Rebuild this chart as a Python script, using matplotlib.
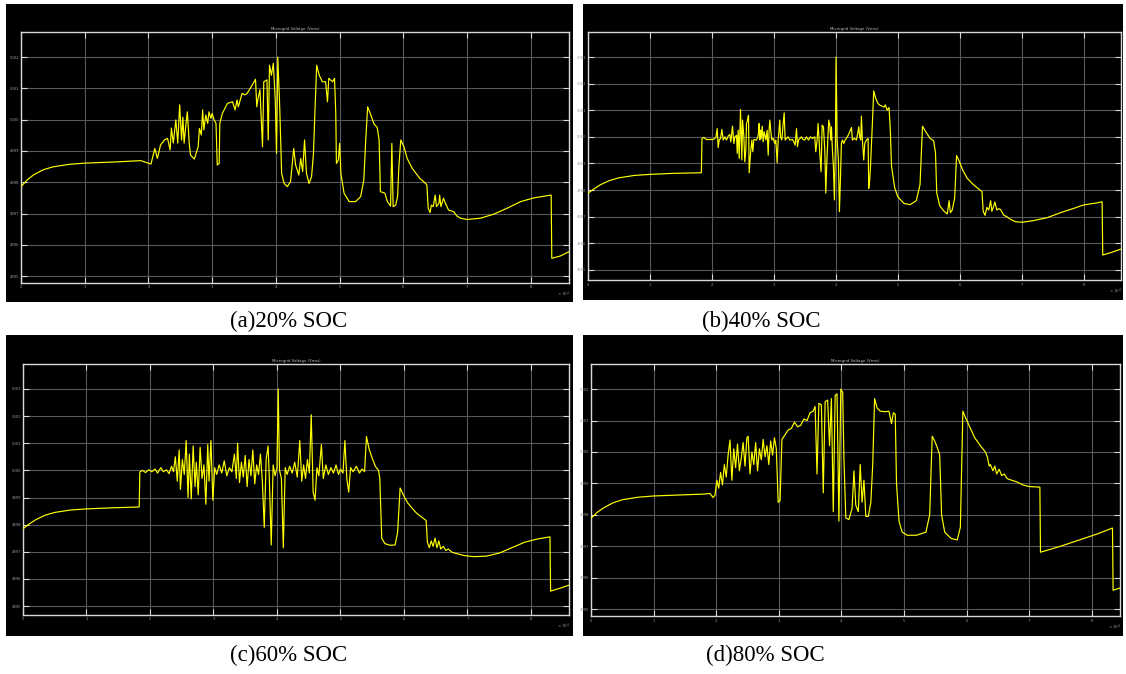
import matplotlib
matplotlib.use("Agg")
import matplotlib.pyplot as plt
from matplotlib.patches import Rectangle
import matplotlib.ticker as mticker

# ---------------- data (time in x10^4 s, voltage in V) ----------------
t_a = [0, 0.1, 0.2, 0.35, 0.5, 0.75, 1.0, 1.5, 1.88, 2.04, 2.10, 2.14, 2.19, 2.25, 2.30, 2.34, 2.36, 2.39,
       2.43, 2.46, 2.49, 2.52, 2.54, 2.56, 2.59, 2.61, 2.64, 2.66, 2.72, 2.78, 2.80, 2.83, 2.85, 2.87,
       2.90, 2.93, 2.95, 2.98, 3.00, 3.03, 3.06, 3.08, 3.11, 3.12, 3.16, 3.24, 3.32, 3.36, 3.39, 3.41,
       3.44, 3.47, 3.51, 3.55, 3.63, 3.68, 3.70, 3.72, 3.75, 3.79, 3.81, 3.86, 3.88, 3.90, 3.93, 3.96,
       3.99, 4.01, 4.03, 4.06, 4.09, 4.13, 4.18, 4.23, 4.28, 4.31, 4.36, 4.39, 4.42, 4.45, 4.48, 4.52,
       4.56, 4.59, 4.61, 4.64, 4.68, 4.73, 4.78, 4.81, 4.83, 4.89, 4.92, 4.94, 4.95, 4.98, 5.00, 5.02,
       5.07, 5.15, 5.25, 5.33, 5.38, 5.41, 5.44, 5.49, 5.54, 5.59, 5.62, 5.64, 5.71, 5.75, 5.80, 5.82,
       5.84, 5.88, 5.91, 5.93, 5.96, 6.01, 6.06, 6.14, 6.26, 6.35, 6.37, 6.39, 6.42, 6.44, 6.47, 6.50,
       6.52, 6.56, 6.57, 6.59, 6.63, 6.66, 6.71, 6.79, 6.84, 6.90, 7.00, 7.21, 7.42, 7.63, 7.84, 8.05,
       8.32, 8.33, 8.46, 8.60]
v_a = [4997.86, 4998.08, 4998.24, 4998.40, 4998.49, 4998.57, 4998.61, 4998.65, 4998.69, 4998.58, 4999.08,
       4998.76, 4999.19, 4999.35, 4999.40, 4999.03, 4999.73, 4999.25, 4999.99, 4999.25, 5000.47, 4999.35,
       5000.08, 4999.25, 4999.89, 5000.25, 4999.25, 4998.87, 4998.74, 4999.13, 4999.72, 4999.51, 5000.31,
       4999.67, 5000.15, 4999.88, 5000.25, 5000.04, 5000.20, 4999.99, 4999.88, 4998.55, 4998.60, 4999.88,
       5000.20, 5000.52, 5000.57, 5000.31, 5000.63, 5000.41, 5000.63, 5000.84, 5000.79, 5000.84, 5001.11,
       5001.29, 5000.41, 5000.68, 5000.95, 4999.13, 5001.21, 5001.27, 4999.35, 5001.74, 5001.42, 5001.80,
       5000.63, 4998.92, 5002.00, 5000.41, 4998.28, 4997.96, 4997.86, 4998.02, 4999.08, 4998.55, 4998.23,
       4998.76, 4998.34, 4999.35, 4998.28, 4997.96, 4998.18, 4998.92, 5000.09, 5001.74, 5001.42, 5001.21,
       5001.21, 5000.57, 5001.32, 5001.21, 5001.32, 5000.20, 4998.60, 4998.71, 4999.24, 4998.28, 4997.65,
       4997.38, 4997.38, 4997.54, 4998.07, 4999.35, 5000.41, 5000.15, 4999.86, 4999.75, 4999.35, 4997.70,
       4997.65, 4997.38, 4997.24, 4999.24, 4997.22, 4997.27, 4997.54, 4998.50, 4999.35, 4999.13, 4998.76,
       4998.44, 4998.12, 4997.96, 4997.91, 4997.17, 4997.03, 4997.27, 4997.22, 4997.59, 4997.22, 4997.33,
       4997.59, 4997.22, 4997.49, 4997.33, 4997.11, 4997.06, 4996.92, 4996.85, 4996.81, 4996.85, 4996.98,
       4997.17, 4997.38, 4997.50, 4997.59, 4995.57, 4995.64, 4995.78]

t_b = [0, 0.1, 0.2, 0.35, 0.5, 0.75, 1.0, 1.4, 1.83, 1.84, 1.87, 1.91, 2.02, 2.065, 2.086, 2.102, 2.118,
       2.14, 2.161, 2.183, 2.21, 2.237, 2.263, 2.29, 2.306, 2.333, 2.355, 2.371, 2.398, 2.409, 2.425,
       2.441, 2.462, 2.484, 2.495, 2.516, 2.532, 2.548, 2.559, 2.575, 2.591, 2.602, 2.624, 2.645, 2.661,
       2.677, 2.72, 2.742, 2.753, 2.763, 2.774, 2.785, 2.796, 2.812, 2.828, 2.844, 2.871, 2.892, 2.909,
       2.925, 2.935, 2.952, 2.968, 2.989, 3.016, 3.032, 3.054, 3.070, 3.097, 3.108, 3.129, 3.151, 3.167,
       3.183, 3.204, 3.231, 3.258, 3.301, 3.323, 3.344, 3.366, 3.382, 3.398, 3.446, 3.473, 3.5, 3.527,
       3.559, 3.591, 3.624, 3.661, 3.677, 3.699, 3.715, 3.731, 3.742, 3.763, 3.78, 3.801, 3.823, 3.839,
       3.855, 3.871, 3.887, 3.903, 3.919, 3.93, 3.946, 3.962, 3.978, 3.995, 4.005, 4.022, 4.043, 4.059,
       4.075, 4.091, 4.108, 4.129, 4.151, 4.183, 4.215, 4.237, 4.253, 4.269, 4.301, 4.333, 4.355, 4.371,
       4.387, 4.403, 4.414, 4.43, 4.452, 4.468, 4.495, 4.522, 4.532, 4.548, 4.559, 4.575, 4.591, 4.613,
       4.645, 4.683, 4.71, 4.78, 4.80, 4.83, 4.86, 4.88, 4.90, 4.95, 5.0, 5.1, 5.2, 5.3, 5.36, 5.40,
       5.45, 5.52, 5.58, 5.61, 5.63, 5.68, 5.75, 5.80, 5.83, 5.85, 5.88, 5.92, 5.95, 5.99, 6.05, 6.12,
       6.2, 6.3, 6.36, 6.38, 6.41, 6.44, 6.47, 6.5, 6.52, 6.55, 6.57, 6.6, 6.63, 6.66, 6.71, 6.76, 6.82,
       6.90, 7.01, 7.19, 7.41, 7.63, 7.84, 8.00, 8.22, 8.30, 8.31, 8.43, 8.60]
v_b = [4997.88, 4998.05, 4998.20, 4998.36, 4998.46, 4998.55, 4998.59, 4998.63, 4998.65, 4999.94, 4999.98,
       4999.90, 4999.90, 4999.98, 5000.31, 4999.60, 4999.88, 4999.94, 5000.28, 4999.88, 5000.00, 4999.88,
       5000.03, 5000.09, 4999.81, 5000.40, 4999.75, 5000.00, 5000.06, 4999.38, 5000.25, 4999.19, 5001.03,
       4999.13, 5000.63, 5000.00, 4999.06, 4999.50, 5000.50, 5000.63, 5000.81, 4998.65, 4999.38, 4999.88,
       4999.44, 4999.90, 4999.88, 5000.00, 5000.15, 5000.50, 4999.88, 5000.25, 4999.94, 5000.40, 4999.81,
       5000.19, 4999.88, 5000.25, 4999.31, 5000.31, 5000.63, 5000.19, 4999.88, 4999.94, 4999.75, 4999.88,
       4999.03, 4999.88, 5000.63, 5000.00, 4999.88, 5000.50, 5000.90, 4999.88, 4999.94, 5000.00, 4999.88,
       4999.90, 4999.81, 4999.69, 5000.31, 4999.63, 4999.88, 5000.00, 4999.90, 4999.88, 5000.00, 4999.88,
       5000.00, 4999.94, 5000.00, 4999.44, 4999.88, 5000.50, 4999.88, 4999.38, 4998.69, 5000.44, 5000.38,
       4999.50, 4997.88, 4999.00, 4999.88, 5000.63, 5000.44, 4999.88, 5000.38, 4999.50, 4998.88, 4997.63,
       4999.88, 5003.00, 4999.88, 4999.13, 4997.19, 4998.38, 4999.75, 4999.88, 4999.75, 4999.88, 4999.98,
       5000.13, 5000.25, 5000.35, 4999.88, 4999.94, 4999.88, 5000.13, 5000.38, 5000.00, 4999.88, 5000.78,
       4999.88, 4999.13, 4999.75, 4999.88, 4999.94, 4998.06, 4998.38, 4998.81, 4999.63, 5000.50, 5001.73,
       5001.44, 5001.25, 5001.19, 5001.12, 5001.20, 5001.00, 5001.10, 5000.30, 4998.90, 4998.10, 4997.75,
       4997.50, 4997.45, 4997.60, 4998.20, 5000.40, 5000.20, 4999.95, 4999.85, 4999.40, 4997.90, 4997.40,
       4997.20, 4997.10, 4997.60, 4997.15, 4997.25, 4997.70, 4999.30, 4999.10, 4998.75, 4998.45, 4998.25,
       4998.05, 4997.95, 4997.20, 4997.05, 4997.35, 4997.25, 4997.60, 4997.20, 4997.40, 4997.55, 4997.25,
       4997.30, 4997.27, 4997.06, 4997.00, 4996.90, 4996.81, 4996.79, 4996.85, 4996.96, 4997.15, 4997.31,
       4997.44, 4997.52, 4997.56, 4995.56, 4995.64, 4995.78]

t_c = [0, 0.1, 0.2, 0.35, 0.5, 0.75, 1.0, 1.4, 1.83, 1.84, 1.88, 1.93, 1.98, 2.03, 2.08, 2.12, 2.17, 2.21,
       2.26, 2.30, 2.34, 2.37, 2.40, 2.43, 2.46, 2.48, 2.51, 2.54, 2.57, 2.60, 2.62, 2.65, 2.68, 2.71,
       2.73, 2.76, 2.79, 2.82, 2.85, 2.88, 2.91, 2.93, 2.96, 2.99, 3.02, 3.05, 3.09, 3.13, 3.17, 3.21,
       3.25, 3.29, 3.33, 3.36, 3.38, 3.41, 3.44, 3.47, 3.50, 3.53, 3.56, 3.59, 3.62, 3.65, 3.68, 3.71,
       3.74, 3.77, 3.80, 3.83, 3.86, 3.88, 3.91, 3.94, 3.97, 4.00, 4.02, 4.04, 4.07, 4.10, 4.13, 4.16,
       4.20, 4.24, 4.28, 4.32, 4.36, 4.39, 4.42, 4.45, 4.48, 4.51, 4.54, 4.57, 4.60, 4.63, 4.66, 4.70,
       4.73, 4.77, 4.81, 4.85, 4.89, 4.93, 4.97, 5.00, 5.04, 5.07, 5.10, 5.13, 5.16, 5.20, 5.25, 5.30,
       5.34, 5.38, 5.41, 5.45, 5.50, 5.55, 5.60, 5.62, 5.65, 5.70, 5.78, 5.86, 5.90, 5.94, 6.00, 6.06,
       6.13, 6.20, 6.28, 6.35, 6.37, 6.40, 6.43, 6.46, 6.49, 6.52, 6.55, 6.58, 6.62, 6.66, 6.70, 6.76,
       6.85, 6.95, 7.10, 7.30, 7.50, 7.70, 7.90, 8.10, 8.30, 8.31, 8.45, 8.60]
v_c = [4997.85, 4998.03, 4998.18, 4998.35, 4998.45, 4998.54, 4998.58, 4998.62, 4998.65, 4999.94, 5000.00,
       4999.92, 5000.02, 4999.95, 5000.05, 4999.90, 5000.10, 4999.95, 5000.02, 4999.88, 5000.15, 4999.95,
       5000.50, 4999.60, 5000.75, 4999.30, 5000.40, 4999.85, 5001.10, 4999.00, 5000.60, 4998.95, 5000.90,
       4999.40, 5000.30, 4999.10, 5000.85, 4999.70, 5000.20, 4998.75, 5000.95, 4999.60, 5001.10, 4998.90,
       5000.10, 4999.85, 5000.20, 4999.90, 5000.35, 4999.80, 5000.10, 4999.95, 5000.60, 4999.70, 5001.00,
       4999.55, 5000.30, 4999.75, 5000.55, 4999.40, 5000.40, 4999.80, 5000.75, 4999.50, 5000.20, 4999.85,
       5000.60, 4999.60, 4997.90, 5000.40, 5000.90, 4999.70, 4997.25, 5000.20, 4999.80, 5000.10, 5003.00,
       5000.00, 4999.70, 4997.15, 5000.10, 4999.85, 5000.15, 4999.90, 5000.30, 4999.75, 5001.10, 4999.60,
       5000.20, 4999.70, 5000.40, 4999.90, 5002.05, 4999.20, 4998.90, 5000.10, 4999.80, 5000.95, 4999.70,
       5000.20, 4999.85, 5000.10, 4999.90, 5000.20, 4999.85, 5000.05, 4999.90, 5001.10, 4999.70, 4999.20,
       5000.10, 4999.95, 5000.15, 4999.90, 5000.05, 4999.95, 5001.25, 5000.80, 5000.45, 5000.15, 5000.00,
       4999.70, 4997.50, 4997.30, 4997.24, 4997.25, 4997.70, 4999.35, 4999.05, 4998.80, 4998.60, 4998.42,
       4998.28, 4998.15, 4997.35, 4997.15, 4997.40, 4997.20, 4997.50, 4997.15, 4997.40, 4997.10, 4997.20,
       4997.05, 4997.10, 4996.98, 4996.92, 4996.86, 4996.82, 4996.84, 4996.95, 4997.15, 4997.35, 4997.47,
       4997.55, 4995.55, 4995.65, 4995.77]

t_d = [0, 0.1, 0.2, 0.35, 0.5, 0.75, 1.0, 1.4, 1.80, 1.90, 1.95, 1.98, 2.01, 2.04, 2.07, 2.10, 2.13, 2.16,
       2.19, 2.22, 2.25, 2.28, 2.31, 2.34, 2.37, 2.40, 2.43, 2.46, 2.49, 2.51, 2.54, 2.57, 2.60, 2.63,
       2.66, 2.69, 2.72, 2.75, 2.78, 2.81, 2.84, 2.87, 2.90, 2.93, 2.96, 2.99, 3.02, 3.05, 3.10, 3.15,
       3.20, 3.25, 3.30, 3.35, 3.40, 3.45, 3.50, 3.55, 3.58, 3.61, 3.64, 3.68, 3.71, 3.74, 3.78, 3.81,
       3.84, 3.87, 3.90, 3.93, 3.96, 3.99, 4.02, 4.04, 4.07, 4.12, 4.17, 4.20, 4.23, 4.27, 4.30, 4.33,
       4.36, 4.39, 4.43, 4.47, 4.50, 4.53, 4.57, 4.62, 4.70, 4.76, 4.80, 4.83, 4.86, 4.88, 4.92, 4.97,
       5.05, 5.20, 5.35, 5.41, 5.45, 5.49, 5.53, 5.57, 5.60, 5.65, 5.75, 5.85, 5.90, 5.94, 5.98, 6.05,
       6.13, 6.22, 6.30, 6.33, 6.36, 6.38, 6.42, 6.45, 6.48, 6.52, 6.56, 6.60, 6.65, 6.72, 6.80, 6.90,
       7.00, 7.17, 7.18, 7.50, 7.80, 8.10, 8.33, 8.34, 8.45]
v_d = [4997.89, 4998.08, 4998.22, 4998.38, 4998.48, 4998.56, 4998.60, 4998.63, 4998.66, 4998.68, 4998.55,
       4998.62, 4999.10, 4998.85, 4999.35, 4998.95, 4999.60, 4999.20, 4999.90, 5000.38, 4999.10, 5000.10,
       4999.50, 5000.25, 4999.40, 4999.80, 5000.30, 4999.55, 5000.45, 5000.50, 4999.30, 5000.00, 4999.60,
       5000.30, 4999.40, 5000.10, 4999.75, 5000.40, 4999.85, 5000.20, 4999.60, 5000.35, 4999.90, 5000.45,
       5000.10, 4998.40, 4998.45, 5000.40, 5000.55, 5000.70, 5000.75, 5000.95, 5000.80, 5000.85, 5001.05,
       5001.00, 5001.25, 5001.30, 5001.45, 4999.30, 5001.55, 5001.50, 4998.70, 5001.60, 5001.65, 5000.20,
       5001.70, 4998.10, 5001.80, 5001.85, 4997.80, 5002.00, 5001.90, 4999.80, 4997.90, 4997.85, 4998.20,
       4999.40, 4998.30, 4998.10, 4999.60, 4998.40, 4999.10, 4997.95, 4997.95, 4998.40, 4999.60, 5001.70,
       5001.40, 5001.30, 5001.28, 5001.30, 5000.90, 5001.25, 5001.20, 4999.00, 4997.80, 4997.45, 4997.35,
       4997.35, 4997.45, 4998.00, 5000.50, 5000.35, 5000.15, 4999.90, 4998.00, 4997.45, 4997.25, 4997.20,
       4997.60, 5001.30, 5001.10, 5000.80, 5000.45, 5000.20, 5000.00, 4999.85, 4999.55, 4999.60, 4999.40,
       4999.55, 4999.30, 4999.45, 4999.25, 4999.30, 4999.15, 4999.10, 4999.05, 4998.95, 4998.90, 4998.88,
       4996.81, 4997.00, 4997.20, 4997.40, 4997.58, 4995.60, 4995.67]

yticks_a = [4995, 4996, 4997, 4998, 4999, 5000, 5001, 5002]
yticks_b = [4995, 4996, 4997, 4998, 4999, 5000, 5001, 5002, 5003]
yticks_c = [4995, 4996, 4997, 4998, 4999, 5000, 5001, 5002, 5003]
yticks_d = [4995, 4996, 4997, 4998, 4999, 5000, 5001, 5002]
xticks = [0, 1, 2, 3, 4, 5, 6, 7, 8]
captions = ["(a)20% SOC", "(b)40% SOC", "(c)60% SOC", "(d)80% SOC"]
title = "Microgrid Voltage (Vrms)"

# ---------------- layout (pixels) ----------------
W, H = 1126, 674
fig = plt.figure(figsize=(W / 100, H / 100), dpi=100)
fig.patch.set_facecolor("white")

panels = [
    dict(t=t_a, v=v_a, yt=yticks_a, box=(6, 4, 573, 302), ax=(21, 32, 569, 283),
         xlim=(0, 8.6), ylim=(4994.78, 5002.8), cap=captions[0], cxy=(289, 321)),
    dict(t=t_b, v=v_b, yt=yticks_b, box=(583, 4, 1123, 300), ax=(588, 32, 1120.7, 280),
         xlim=(0, 8.6), ylim=(4994.62, 5003.94), cap=captions[1], cxy=(761, 321)),
    dict(t=t_c, v=v_c, yt=yticks_c, box=(6, 335, 573, 636), ax=(23, 364, 569, 615),
         xlim=(0, 8.6), ylim=(4994.67, 5003.92), cap=captions[2], cxy=(289, 655)),
    dict(t=t_d, v=v_d, yt=yticks_d, box=(583, 335, 1123, 636), ax=(591, 364, 1120, 616),
         xlim=(0, 8.45), ylim=(4994.78, 5002.8), cap=captions[3], cxy=(765, 655)),
]

for p in panels:
    bx0, by0, bx1, by1 = p["box"]
    fig.add_artist(Rectangle((bx0 / W, 1 - by1 / H), (bx1 - bx0) / W, (by1 - by0) / H,
                             transform=fig.transFigure, facecolor="black",
                             edgecolor="none", zorder=-10))
    ax0, ay0, ax1, ay1 = p["ax"]
    ax = fig.add_axes([ax0 / W, 1 - ay1 / H, (ax1 - ax0) / W, (ay1 - ay0) / H], zorder=5)
    ax.set_facecolor("black")
    ax.plot(p["t"], p["v"], color="#ffff00", lw=0.85, zorder=3)
    ax.set_xlim(*p["xlim"])
    ax.set_ylim(*p["ylim"])
    ax.set_xticks(xticks)
    ax.set_yticks(p["yt"])
    ax.yaxis.set_major_formatter(mticker.FormatStrFormatter("%d"))
    ax.xaxis.set_major_formatter(mticker.FormatStrFormatter("%d"))
    ax.grid(True, color="#5a5a5a", lw=0.8)
    ax.set_axisbelow(True)
    for s in ax.spines.values():
        s.set_color("#d8d8d8")
        s.set_linewidth(1.0)
    ax.tick_params(direction="in", length=4, width=0.8, color="#d8d8d8",
                   labelcolor="#9a9a9a", labelsize=2.7, top=True, right=True)
    ax.tick_params(axis="y", pad=1.2)
    ax.tick_params(axis="x", pad=1.8)
    ax.set_title(title, fontsize=2.8, color="#bdbdbd", pad=1.5)
    fig.text((ax1 + 1) / W, 1 - (ay1 + 11) / H, "× 10$^4$", fontsize=2.8,
             color="#9a9a9a", ha="right", va="center", zorder=6)
    cx, cy = p["cxy"]
    fig.text(cx / W, 1 - cy / H, p["cap"], ha="center", va="center",
             family="Liberation Serif", fontsize=16.5, color="black")

fig.savefig("out.png", dpi=100, facecolor="white")
